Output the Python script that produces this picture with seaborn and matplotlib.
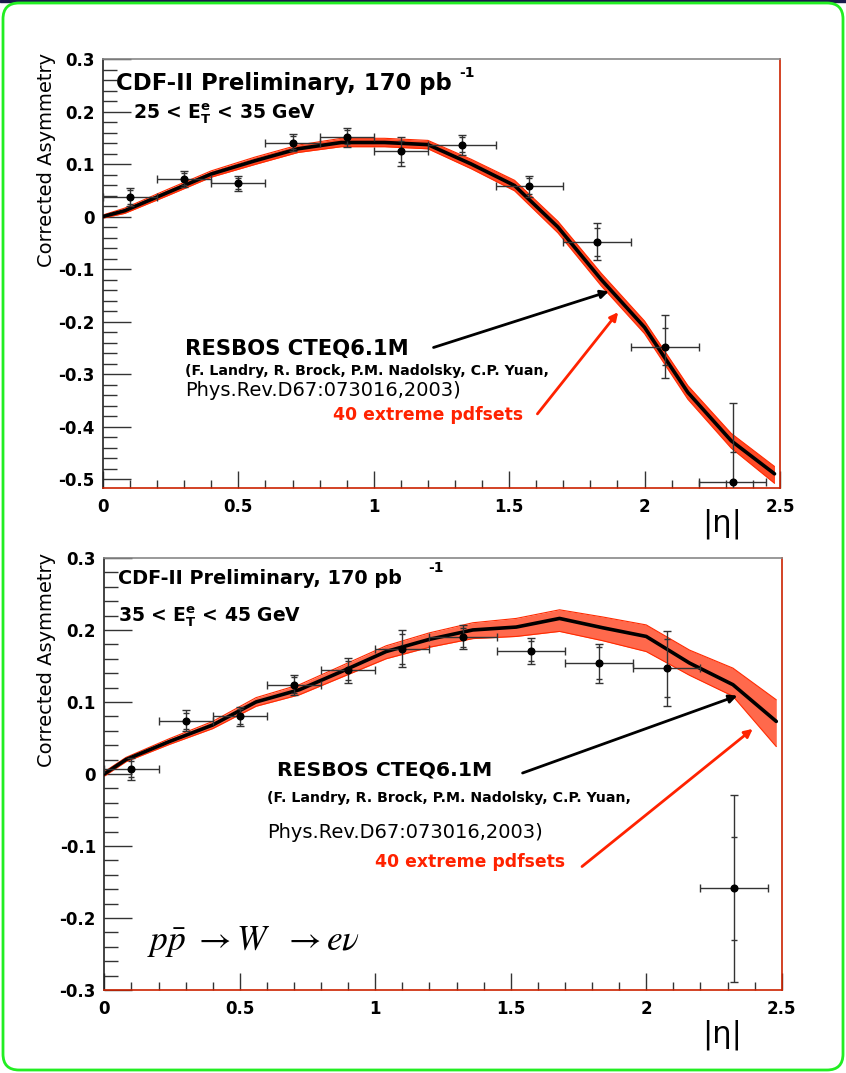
import numpy as np
import matplotlib
matplotlib.use("Agg")
import matplotlib.pyplot as plt
import seaborn as sns
from matplotlib.patches import FancyBboxPatch, Rectangle

sns.set_style("white")
plt.rcParams["font.family"] = ["DejaVu Sans"]
plt.rcParams["mathtext.fontset"] = "dejavusans"
plt.rcParams["text.color"] = "black"
plt.rcParams["xtick.color"] = "black"
plt.rcParams["ytick.color"] = "black"

# ---- data ----
eta_pts = [0.1, 0.3, 0.5, 0.7, 0.9, 1.1, 1.325, 1.575, 1.825, 2.075, 2.325]
eta_err = [0.1, 0.1, 0.1, 0.1, 0.1, 0.1, 0.125, 0.125, 0.125, 0.125, 0.125]

asym_lo = [0.037, 0.072, 0.063, 0.141, 0.151, 0.124, 0.137, 0.058, -0.048, -0.248, -0.506]
tot_lo = [0.017, 0.015, 0.015, 0.017, 0.018, 0.027, 0.019, 0.020, 0.035, 0.060, 0.150]
stat_lo = [0.013, 0.011, 0.011, 0.013, 0.013, 0.020, 0.015, 0.016, 0.027, 0.035, 0.058]

asym_hi = [0.007, 0.074, 0.080, 0.123, 0.144, 0.174, 0.190, 0.171, 0.154, 0.147, -0.159]
tot_hi = [0.015, 0.015, 0.013, 0.014, 0.017, 0.026, 0.017, 0.018, 0.027, 0.052, 0.130]
stat_hi = [0.011, 0.011, 0.010, 0.011, 0.013, 0.021, 0.013, 0.014, 0.022, 0.040, 0.072]

# RESBOS prediction nodes
eta_th = [0, 0.08, 0.24, 0.40, 0.56, 0.72, 0.88, 1.04, 1.20, 1.36, 1.52, 1.68, 1.84, 2.00, 2.16, 2.32, 2.48]

cteq_lo = [0, 0.011, 0.046, 0.081, 0.106, 0.129, 0.141, 0.141, 0.137, 0.100, 0.059, -0.020, -0.120, -0.211, -0.335, -0.427, -0.490]
band_lo_up = [0.003, 0.016, 0.052, 0.087, 0.113, 0.136, 0.149, 0.149, 0.145, 0.109, 0.069, -0.009, -0.108, -0.199, -0.322, -0.413, -0.476]
band_lo_dn = [-0.003, 0.006, 0.040, 0.075, 0.099, 0.122, 0.133, 0.133, 0.129, 0.091, 0.049, -0.031, -0.132, -0.223, -0.348, -0.441, -0.508]

cteq_hi = [0, 0.020, 0.045, 0.068, 0.100, 0.117, 0.143, 0.170, 0.187, 0.200, 0.204, 0.216, 0.203, 0.191, 0.154, 0.124, 0.073]
band_hi_up = [0.003, 0.023, 0.049, 0.073, 0.106, 0.124, 0.151, 0.178, 0.196, 0.210, 0.216, 0.228, 0.218, 0.207, 0.172, 0.147, 0.103]
band_hi_dn = [-0.003, 0.017, 0.041, 0.063, 0.094, 0.110, 0.135, 0.160, 0.176, 0.188, 0.191, 0.198, 0.185, 0.170, 0.137, 0.108, 0.038]

RED = "#ff2a00"
TXT_RED = "#ff2200"

fig = plt.figure(figsize=(8.46, 10.73), dpi=100)

# green rounded frame and dark strip on top
fig.patches.append(Rectangle((0, 1071), 846, 2, transform=None, color="#1a1a4a", zorder=0))
fig.patches.append(FancyBboxPatch((3, 3), 840, 1067, boxstyle="round,pad=0,rounding_size=16",
                                  transform=None, fill=False, ec="#22ee22", lw=2, zorder=1))

ax1 = fig.add_axes([0.1217, 0.5452, 0.8002, 0.3998])
ax2 = fig.add_axes([0.1233, 0.0774, 0.8007, 0.4026])


def draw_panel(ax, up, dn, central, y, tot, stat, ylim, band_alpha):
    ax.fill_between(eta_th, dn, up, color=RED, alpha=band_alpha, lw=0, zorder=2)
    ax.plot(eta_th, up, color=RED, lw=0.8, zorder=2)
    ax.plot(eta_th, dn, color=RED, lw=0.8, zorder=2)
    sns.lineplot(x=eta_th, y=central, ax=ax, color="black", lw=2.6, zorder=3)
    ax.errorbar(eta_pts, y, xerr=eta_err, yerr=tot, fmt="o", color="black", ms=4.8,
                ecolor="#333333", elinewidth=1, capsize=3, capthick=1, zorder=4)
    ax.errorbar(eta_pts, y, yerr=stat, fmt="none", ecolor="#333333",
                elinewidth=0, capsize=2.5, capthick=1, zorder=4)
    ax.set_xticks([0, 0.5, 1, 1.5, 2, 2.5])
    ax.set_xticklabels(["0", "0.5", "1", "1.5", "2", "2.5"])
    ax.set_xticks(np.arange(0, 2.51, 0.1), minor=True)
    yt = np.round(np.arange(-0.5, 0.31, 0.1), 2)
    yt = [v for v in yt if ylim[0] - 1e-6 <= v <= ylim[1] + 1e-6]
    ax.set_yticks(yt)
    ax.set_yticklabels(["0" if abs(v) < 1e-9 else f"{v:g}" for v in yt])
    ym = np.round(np.arange(-0.5, 0.301, 0.02), 3)
    ax.set_yticks([v for v in ym if ylim[0] <= v <= ylim[1]], minor=True)
    ax.set_xlim(0, 2.5)
    ax.set_ylim(*ylim)
    ax.tick_params(axis="both", which="major", direction="in", labelsize=12, width=1,
                   color="#333333", labelcolor="black")
    ax.tick_params(axis="y", which="major", length=20, pad=6)
    ax.tick_params(axis="y", which="minor", direction="in", length=10, width=1, color="#333333")
    ax.tick_params(axis="x", which="major", length=12, pad=7)
    ax.tick_params(axis="x", which="minor", direction="in", length=6, width=1, color="#333333")
    ax.tick_params(left=True, bottom=True, which="both")
    for lab in ax.get_xticklabels() + ax.get_yticklabels():
        lab.set_fontweight("bold")
    ax.spines["left"].set_color("#222222")
    ax.spines["top"].set_color("#888888")
    ax.spines["right"].set_color("#cc2200")
    ax.spines["bottom"].set_color("#cc2200")
    for s in ax.spines.values():
        s.set_linewidth(1.2)
    ax.set_xlabel("")
    ax.set_ylabel("")


draw_panel(ax1, band_lo_up, band_lo_dn, cteq_lo, asym_lo, tot_lo, stat_lo, (-0.517, 0.3), 0.85)
draw_panel(ax2, band_hi_up, band_hi_dn, cteq_hi, asym_hi, tot_hi, stat_hi, (-0.3, 0.3), 0.7)

# ---- texts, top panel ----
ax1.text(-0.084, 1.014, "Corrected Asymmetry", transform=ax1.transAxes, rotation=90,
         ha="center", va="top", fontsize=14)
ax1.text(0.020, 0.928, "CDF-II Preliminary, 170 pb", transform=ax1.transAxes,
         fontsize=16.4, fontweight="bold", va="baseline")
ax1.text(0.527, 0.958, "-1", transform=ax1.transAxes, fontsize=10, fontweight="bold", va="baseline")
ax1.text(0.044, 0.862, r"25 < $\mathbf{E}^{\mathbf{e}}_{\mathbf{T}}$ < 35 GeV", transform=ax1.transAxes,
         fontsize=13.5, fontweight="bold", va="baseline")
ax1.text(0.121, 0.310, "RESBOS CTEQ6.1M", transform=ax1.transAxes, fontsize=15.2,
         fontweight="bold", va="baseline")
ax1.text(0.121, 0.263, "(F. Landry, R. Brock, P.M. Nadolsky, C.P. Yuan,", transform=ax1.transAxes,
         fontsize=10.2, fontweight="bold", va="baseline")
ax1.text(0.121, 0.214, "Phys.Rev.D67:073016,2003)", transform=ax1.transAxes, fontsize=14,
         va="baseline")
ax1.text(0.340, 0.158, "40 extreme pdfsets", transform=ax1.transAxes, fontsize=12.4,
         fontweight="bold", color=TXT_RED, va="baseline")
ax1.annotate("", xy=(1.878, -0.141), xytext=(1.211, -0.251),
             arrowprops=dict(arrowstyle="-|>", color="black", lw=2, mutation_scale=12), zorder=5)
ax1.annotate("", xy=(1.909, -0.178), xytext=(1.598, -0.380),
             arrowprops=dict(arrowstyle="-|>", color=TXT_RED, lw=2, mutation_scale=12), zorder=5)

# ---- texts, bottom panel ----
ax2.text(-0.086, 1.012, "Corrected Asymmetry", transform=ax2.transAxes, rotation=90,
         ha="center", va="top", fontsize=14)
ax2.text(0.020, 0.940, "CDF-II Preliminary, 170 pb", transform=ax2.transAxes,
         fontsize=13.9, fontweight="bold", va="baseline")
ax2.text(0.478, 0.967, "-1", transform=ax2.transAxes, fontsize=10, fontweight="bold", va="baseline")
ax2.text(0.020, 0.853, r"35 < $\mathbf{E}^{\mathbf{e}}_{\mathbf{T}}$ < 45 GeV", transform=ax2.transAxes,
         fontsize=13.5, fontweight="bold", va="baseline")
ax2.text(0.2545, 0.4965, "RESBOS CTEQ6.1M", transform=ax2.transAxes, fontsize=14.7,
         fontweight="bold", va="baseline")
ax2.text(0.240, 0.4345, "(F. Landry, R. Brock, P.M. Nadolsky, C.P. Yuan,", transform=ax2.transAxes,
         fontsize=10.2, fontweight="bold", va="baseline")
ax2.text(0.240, 0.352, "Phys.Rev.D67:073016,2003)", transform=ax2.transAxes, fontsize=14,
         va="baseline")
ax2.text(0.3996, 0.2845, "40 extreme pdfsets", transform=ax2.transAxes, fontsize=12.4,
         fontweight="bold", color=TXT_RED, va="baseline")
ax2.text(0.0626, 0.093, r"$p\bar{p}\ \rightarrow W\ \ \rightarrow e\nu$", transform=ax2.transAxes,
         fontsize=25.5, va="baseline", math_fontfamily="stix")
ax2.annotate("", xy=(2.346, 0.110), xytext=(1.534, 0.0),
             arrowprops=dict(arrowstyle="-|>", color="black", lw=2, mutation_scale=12), zorder=5)
ax2.annotate("", xy=(2.401, 0.065), xytext=(1.755, -0.131),
             arrowprops=dict(arrowstyle="-|>", color=TXT_RED, lw=2, mutation_scale=12), zorder=5)

# |eta| axis titles
fig.text(0.853, 0.5117, "|η|", ha="center", va="center", fontsize=22)
fig.text(0.853, 0.0359, "|η|", ha="center", va="center", fontsize=22)

fig.savefig("out.png", dpi=100)
